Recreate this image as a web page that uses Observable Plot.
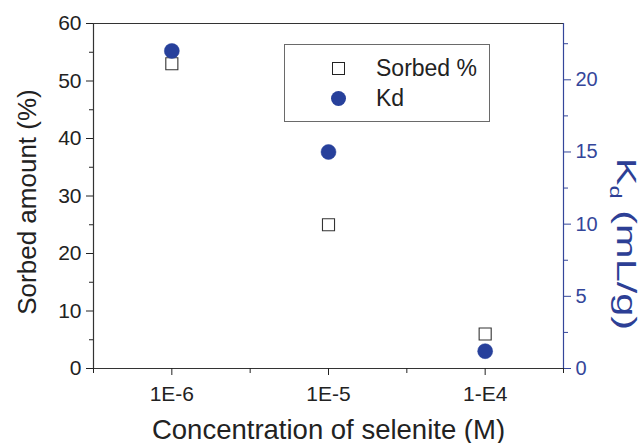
<!DOCTYPE html>
<html><head><meta charset="utf-8">
<script src="https://cdn.jsdelivr.net/npm/d3@7"></script>
<script src="https://cdn.jsdelivr.net/npm/@observablehq/plot@0.6"></script>
<style>
body{margin:0;background:#fff;font-family:"Liberation Sans",Arial,sans-serif;}
#wrap{position:relative;width:643px;height:443px;overflow:hidden;}
#wrap svg{position:absolute;left:0;top:0;}
.rtitle{position:absolute;white-space:nowrap;font-size:28px;line-height:28px;color:#2d3f95;transform-origin:center center;}
.rtitle sub{font-size:16px;vertical-align:-7px;line-height:0;}
.legend{position:absolute;left:284px;top:44px;width:206px;height:78px;border:1.5px solid #6a6a6a;box-sizing:border-box;background:#fff;}
.legend .row{position:absolute;left:0;font-size:23px;color:#222;}
.legend .sq{position:absolute;width:11px;height:11px;border:1.3px solid #222;background:#fff;}
.legend .ci{position:absolute;width:15px;height:15px;border-radius:50%;background:#27409b;}
</style></head><body><div id="wrap"></div>
<script>
// ---- data ----
const categories = ["1E-6", "1E-5", "1-E4"];
const sorbedPct = [53, 25, 6];
const kdValues = [22, 15, 1.2];
const leftTicks = [0, 10, 20, 30, 40, 50, 60];
const leftMinorTicks = [5, 15, 25, 35, 45, 55];
const kdTicks = [0, 5, 10, 15, 20];
const kdMinorTicks = [2.5, 7.5, 12.5, 17.5, 22.5];
const leftMax = 60;
const kdMax = 23.9;
const seriesNames = ["Sorbed %", "Kd"];
const titles = { x: "Concentration of selenite (M)", yLeft: "Sorbed amount (%)", yRight: ["K", "d", " (mL/g)"] };

const blue = "#27409b";
const axisBlue = "#34469a";
const ink = "#222";
const f = leftMax / kdMax; // map Kd onto the left scale

const rows = categories.map((c, i) => ({ pos: i + 1, label: c, sorbed: sorbedPct[i], kd: kdValues[i] }));
const xMin = 0.5, xMax = categories.length + 0.5;
const xMinor = d3.range(xMin, xMax + 0.01, 1);

const chart = Plot.plot({
  width: 643,
  height: 443,
  marginLeft: 93,
  marginRight: 80,
  marginTop: 23,
  marginBottom: 75,
  style: { fontFamily: "'Liberation Sans', Arial, sans-serif", background: "transparent", overflow: "visible" },
  x: { type: "linear", domain: [xMin, xMax], axis: null },
  y: { domain: [0, leftMax], axis: null },
  marks: [
    // frame
    Plot.ruleY([leftMax], { stroke: "#333", strokeWidth: 1.2 }),
    Plot.ruleY([0], { stroke: "#333", strokeWidth: 1.2 }),
    Plot.ruleX([xMin], { stroke: "#333", strokeWidth: 1.2 }),
    Plot.ruleX([xMax], { stroke: axisBlue, strokeWidth: 1.2 }),
    // left axis
    Plot.axisY(leftTicks, { anchor: "left", tickSize: 7, tickPadding: 5, fontSize: 21, color: ink, label: null }),
    Plot.axisY(leftMinorTicks, { anchor: "left", tickSize: 4, tickFormat: () => "", color: ink, label: null }),
    // right axis (Kd)
    Plot.axisY(kdTicks.map(k => k * f), { anchor: "right", tickSize: 7, tickPadding: 5, fontSize: 20, color: axisBlue, label: null, tickFormat: d => String(Math.round(d / f)) }),
    Plot.axisY(kdMinorTicks.map(k => k * f), { anchor: "right", tickSize: 4, tickFormat: () => "", color: axisBlue, label: null }),
    // x axis
    Plot.axisX(rows.map(d => d.pos), { anchor: "bottom", tickSize: 7, tickPadding: 11, fontSize: 21, color: ink, label: null, tickFormat: d => categories[d - 1] }),
    Plot.axisX(xMinor, { anchor: "bottom", tickSize: 5, tickFormat: () => "", color: ink, label: null }),
    // titles
    Plot.text([titles.yLeft], { frameAnchor: "left", textAnchor: "middle", dx: -66, dy: 6, rotate: -90, fontSize: 26, fill: ink }),
    Plot.text([titles.x], { frameAnchor: "bottom", textAnchor: "middle", dy: 70, fontSize: 27.5, fill: ink }),
    // data
    Plot.dot(rows, { x: "pos", y: "sorbed", symbol: "square", r: 6.8, fill: "white", stroke: "#333", strokeWidth: 1.1 }),
    Plot.dot(rows, { x: "pos", y: d => d.kd * f, r: 7.5, fill: blue, stroke: blue, strokeWidth: 0.5 })
  ]
});

const wrap = document.getElementById("wrap");
wrap.appendChild(chart);

// right axis title with subscript (stretched along its reading direction as in the reference)
const rt = document.createElement("div");
rt.className = "rtitle";
rt.innerHTML = `${titles.yRight[0]}<sub>${titles.yRight[1]}</sub>${titles.yRight[2]}`;
wrap.appendChild(rt);
const w = rt.offsetWidth, h = rt.offsetHeight;
const stretch = 172 / w;
rt.style.left = (626 - w / 2) + "px";
rt.style.top = (244 - h / 2) + "px";
rt.style.transform = `rotate(90deg) scaleX(${stretch})`;

// legend
const lg = document.createElement("div");
lg.className = "legend";
lg.innerHTML = `
  <div class="sq" style="left:47px;top:17px"></div>
  <div class="row" style="left:91px;top:10px">${seriesNames[0]}</div>
  <div class="ci" style="left:46px;top:46px"></div>
  <div class="row" style="left:91px;top:40px">${seriesNames[1]}</div>`;
wrap.appendChild(lg);
</script>
</body></html>
